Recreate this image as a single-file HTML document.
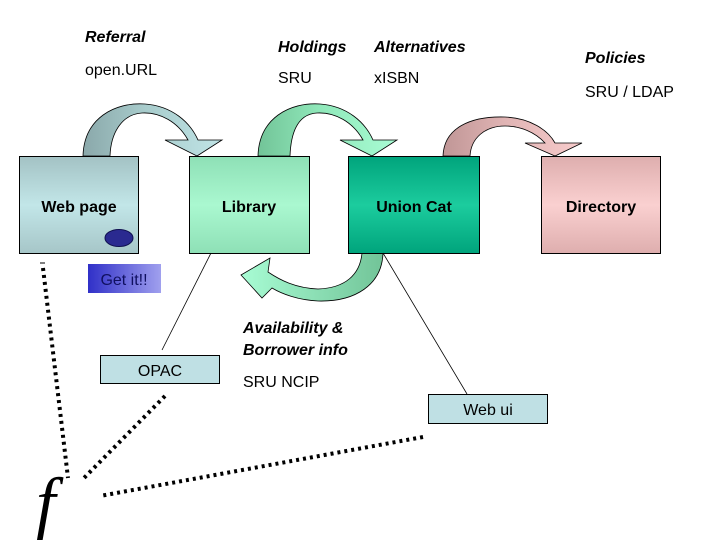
<!DOCTYPE html>
<html><head><meta charset="utf-8"><style>
body{margin:0;width:720px;height:540px;background:#fff;overflow:hidden}
svg{display:block}
text{font-family:"Liberation Sans",sans-serif;fill:#000}
</style></head><body>
<svg width="720" height="540" viewBox="0 0 720 540">
<defs>
<linearGradient id="gw" x1="0" y1="0" x2="0" y2="1"><stop offset="0" stop-color="#a3c2c4"/><stop offset=".5" stop-color="#c2e6e8"/><stop offset="1" stop-color="#a6c6c8"/></linearGradient>
<linearGradient id="gl" x1="0" y1="0" x2="0" y2="1"><stop offset="0" stop-color="#8ee0b6"/><stop offset=".5" stop-color="#aaf8d0"/><stop offset="1" stop-color="#8ee0b6"/></linearGradient>
<linearGradient id="gu" x1="0" y1="0" x2="0" y2="1"><stop offset="0" stop-color="#00a47c"/><stop offset=".5" stop-color="#1ccc9e"/><stop offset="1" stop-color="#00a47c"/></linearGradient>
<linearGradient id="gd" x1="0" y1="0" x2="0" y2="1"><stop offset="0" stop-color="#deaeae"/><stop offset=".5" stop-color="#fad0d0"/><stop offset="1" stop-color="#deaeae"/></linearGradient>
<linearGradient id="gb" x1="0" y1="0" x2="1" y2="0"><stop offset="0" stop-color="#3030c8"/><stop offset="1" stop-color="#a0a0ee"/></linearGradient>
<linearGradient id="a1" x1="0" y1="0" x2="1" y2="0"><stop offset="0" stop-color="#8aa8aa"/><stop offset=".45" stop-color="#a8cccc"/><stop offset="1" stop-color="#c0e4e6"/></linearGradient>
<linearGradient id="a2" x1="0" y1="0" x2="1" y2="0"><stop offset="0" stop-color="#72c498"/><stop offset=".45" stop-color="#90e8ba"/><stop offset="1" stop-color="#a8fcd4"/></linearGradient>
<linearGradient id="a3" x1="0" y1="0" x2="1" y2="0"><stop offset="0" stop-color="#c09696"/><stop offset=".45" stop-color="#e0b4b4"/><stop offset="1" stop-color="#f8cccc"/></linearGradient>
<linearGradient id="a4" x1="1" y1="0" x2="0" y2="0"><stop offset="0" stop-color="#72c498"/><stop offset="1" stop-color="#a8fcd4"/></linearGradient>
</defs>

<path d="M83,156 C84,118 115,102 145,104 C172,106 190,122 198,140 L222,140 L197,156 L165,140 L188,140 C178,122 160,112 142,113 C124,114 111,130 110,156 Z" fill="url(#a1)" stroke="#000" stroke-width="0.8"/>
<path d="M258,156 C259,118 290,102 320,104 C347,106 365,122 373,140 L397,140 L372,156 L340,140 L363,140 C353,122 335,112 317,113 C299,114 291,130 290,156 Z" fill="url(#a2)" stroke="#000" stroke-width="0.8"/>
<path d="M443,156 C444,128 470,116 505,117 C530,118 548,130 555,143 L582,143 L555,156 L525,143 L545,143 C535,132 520,126 505,126 C485,126 471,138 470,156 Z" fill="url(#a3)" stroke="#000" stroke-width="0.8"/>
<path d="M383,253 C382,285 355,302 318,301 C298,300 282,294 272,288 L262,298 L241,275 L270,258 L268,272 C280,280 295,288 318,289 C345,288 360,275 362,253 Z" fill="url(#a4)" stroke="#000" stroke-width="0.8"/>

<rect x="19.5" y="156.5" width="119" height="97" fill="url(#gw)" stroke="#000"/>
<rect x="189.5" y="156.5" width="120" height="97" fill="url(#gl)" stroke="#000"/>
<rect x="348.5" y="156.5" width="131" height="97" fill="url(#gu)" stroke="#000"/>
<rect x="541.5" y="156.5" width="119" height="97" fill="url(#gd)" stroke="#000"/>
<ellipse cx="119" cy="238" rx="14" ry="8.5" fill="#2a2a90" stroke="#101050"/>
<rect x="88" y="264" width="73" height="29" fill="url(#gb)"/>
<rect x="100.5" y="355.5" width="119" height="28" fill="#bfe0e4" stroke="#000"/>
<rect x="428.5" y="394.5" width="119" height="29" fill="#bfe0e4" stroke="#000"/>

<line x1="211" y1="253" x2="162" y2="350" stroke="#000" stroke-width="0.8"/>
<line x1="383" y1="253" x2="467" y2="394" stroke="#000" stroke-width="0.8"/>

<g stroke="#000" stroke-width="4" stroke-dasharray="3,4" fill="none">
<line x1="43" y1="268" x2="68" y2="478"/>
<line x1="165" y1="396" x2="82" y2="480"/>
<line x1="423" y1="437" x2="100" y2="496"/>
</g>
<line x1="40" y1="263" x2="45" y2="263" stroke="#000" stroke-width="1"/>

<g font-size="16">
<text x="85" y="42" font-weight="bold" font-style="italic">Referral</text>
<text x="85" y="75">open.URL</text>
<text x="278" y="52" font-weight="bold" font-style="italic">Holdings</text>
<text x="278" y="83">SRU</text>
<text x="374" y="52" font-weight="bold" font-style="italic">Alternatives</text>
<text x="374" y="83">xISBN</text>
<text x="585" y="63" font-weight="bold" font-style="italic">Policies</text>
<text x="585" y="97">SRU / LDAP</text>
<text x="79" y="212" text-anchor="middle" font-weight="bold">Web page</text>
<text x="249" y="212" text-anchor="middle" font-weight="bold">Library</text>
<text x="414" y="212" text-anchor="middle" font-weight="bold">Union Cat</text>
<text x="601" y="212" text-anchor="middle" font-weight="bold">Directory</text>
<text x="124" y="285" text-anchor="middle" style="fill:#101060">Get it!!</text>
<text x="243" y="333" font-weight="bold" font-style="italic">Availability &amp;</text>
<text x="243" y="355" font-weight="bold" font-style="italic">Borrower info</text>
<text x="243" y="387">SRU  NCIP</text>
<text x="160" y="376" text-anchor="middle">OPAC</text>
<text x="488" y="415" text-anchor="middle">Web ui</text>
</g>
<text x="36" y="526" style="font-family:'Liberation Serif',serif;font-style:italic;font-size:70px">f</text>
</svg>
</body></html>
